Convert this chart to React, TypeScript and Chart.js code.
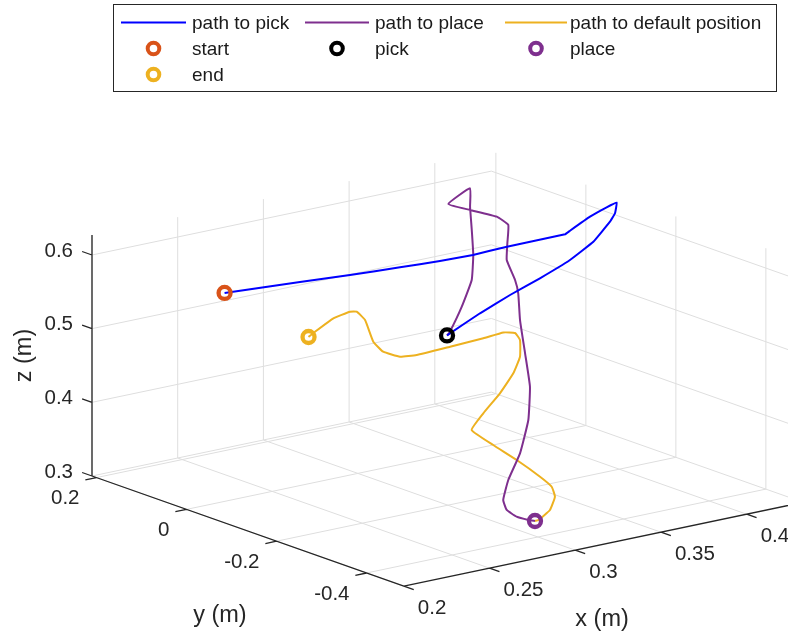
import React, { useEffect, useRef } from "react";
import { Chart, registerables } from "chart.js";

Chart.register(...registerables);

// ---- axis limits and ticks (data units, metres) ----
const X_LIM = [0.2, 0.433];
const Y_LIM = [-0.483, 0.21];
const Z_LIM = [0.3, 0.627];
const X_TICKS = [0.2, 0.25, 0.3, 0.35, 0.4];
const Y_TICKS = [-0.4, -0.2, 0, 0.2];
const Z_TICKS = [0.3, 0.4, 0.5, 0.6];
const X_TICK_LABELS = ["0.2", "0.25", "0.3", "0.35", "0.4"];
const Y_TICK_LABELS = ["-0.4", "-0.2", "0", "0.2"];
const Z_TICK_LABELS = ["0.3", "0.4", "0.5", "0.6"];
const AXIS_TITLES = ["x (m)", "y (m)", "z (m)"];

// ---- series: path to pick ----
const PICK_X = [0.2616, 0.3001, 0.3238, 0.3475, 0.3653, 0.3791, 0.3934, 0.4218, 0.4192, 0.4254, 0.4296, 0.43, 0.429, 0.4287, 0.4216, 0.4106, 0.3957, 0.3809, 0.366, 0.3511, 0.352];
const PICK_Y = [0.15, 0.1291, 0.1082, 0.0873, 0.0664, 0.0455, 0.0245, 0.0036, -0.0173, -0.0382, -0.0591, -0.08, -0.08, -0.07, -0.06, -0.05, -0.04, -0.03, -0.02, -0.01, 0.0];
const PICK_Z = [0.5313, 0.5319, 0.5343, 0.5377, 0.5421, 0.548, 0.5568, 0.5642, 0.5749, 0.5954, 0.6106, 0.6212, 0.6073, 0.5939, 0.568, 0.5464, 0.5267, 0.5091, 0.4894, 0.4673, 0.4618];

// ---- series: path to place ----
const PLACE_X = [0.352, 0.3568, 0.3668, 0.3757, 0.3797, 0.3819, 0.384, 0.3871, 0.3687, 0.3756, 0.3854, 0.3864, 0.3801, 0.374, 0.3731, 0.3692, 0.3645, 0.3617, 0.3588, 0.3521, 0.3415, 0.3289, 0.3202, 0.3165, 0.3132, 0.3141, 0.3155];
const PLACE_Y = [0.0, 0.0118, 0.0236, 0.0354, 0.0472, 0.0589, 0.0707, 0.0825, 0.0606, 0.0387, 0.0168, -0.0051, -0.027, -0.0489, -0.0708, -0.0927, -0.1146, -0.1365, -0.1584, -0.1803, -0.2022, -0.2241, -0.246, -0.2679, -0.3023, -0.3251, -0.3345];
const PLACE_Z = [0.4618, 0.462, 0.4885, 0.5179, 0.5473, 0.5776, 0.6057, 0.6266, 0.619, 0.6123, 0.6031, 0.5961, 0.579, 0.5641, 0.5421, 0.5307, 0.5014, 0.4623, 0.4231, 0.3859, 0.3506, 0.3253, 0.3071, 0.3001, 0.3, 0.3, 0.3];

// ---- series: path to default position ----
const HOME_X = [0.3155, 0.316, 0.3241, 0.3301, 0.3313, 0.3276, 0.3171, 0.3065, 0.297, 0.3069, 0.3197, 0.3306, 0.3376, 0.3407, 0.3409, 0.3372, 0.3286, 0.3123, 0.2959, 0.2893, 0.2826, 0.2799, 0.2782, 0.2764, 0.2756, 0.269, 0.2614, 0.2607];
const HOME_Y = [-0.3345, -0.34, -0.335, -0.3232, -0.3114, -0.2996, -0.2878, -0.276, -0.2642, -0.2524, -0.2406, -0.2288, -0.217, -0.2052, -0.1934, -0.1816, -0.1698, -0.158, -0.1462, -0.1344, -0.1226, -0.1108, -0.099, -0.0872, -0.0754, -0.0636, -0.0518, -0.04];
const HOME_Z = [0.3, 0.3023, 0.3108, 0.3234, 0.3338, 0.3467, 0.3719, 0.3949, 0.4174, 0.4327, 0.451, 0.4703, 0.4868, 0.5055, 0.5123, 0.5123, 0.506, 0.5001, 0.4943, 0.4926, 0.5001, 0.5125, 0.5402, 0.5498, 0.5477, 0.5394, 0.5224, 0.513];

const PATH_NAMES = ["path to pick", "path to place", "path to default position"];
const MARKER_NAMES = ["start", "pick", "place", "end"];

// ---- styling ----
const BLUE = "#0000FF";
const PURPLE = "#7E2F8E";
const YELLOW = "#EDB120";
const ORANGE = "#D95319";
const BLACK = "#000000";
const GRID = "#DEDEDE";
const AXIS = "#262626";
const FONT = '"Liberation Sans", Arial, Helvetica, sans-serif';

// ---- camera: orthographic view of the box (chart units = screen px, y up) ----
const W = 788;
const H = 633;
const VIEW = {
  origin: [92, 157], // image of (X_LIM[0], Y_LIM[1], Z_LIM[0])
  ex: [1714, 360],
  ey: [-450, 159],
  ez: [0, 736.7],
};

type P = { x: number; y: number };

function project(x: number, y: number, z: number): P {
  const u = x - X_LIM[0];
  const v = y - Y_LIM[1];
  const w = z - Z_LIM[0];
  return {
    x: VIEW.origin[0] + VIEW.ex[0] * u + VIEW.ey[0] * v + VIEW.ez[0] * w,
    y: VIEW.origin[1] + VIEW.ex[1] * u + VIEW.ey[1] * v + VIEW.ez[1] * w,
  };
}

function path(xs: number[], ys: number[], zs: number[]): P[] {
  return xs.map((x, i) => project(x, ys[i], zs[i]));
}

const GAP: P = { x: NaN, y: NaN };
function segs(list: number[][][]): P[] {
  const out: P[] = [];
  list.forEach(([a, b]) => {
    out.push(project(a[0], a[1], a[2]), project(b[0], b[1], b[2]), GAP);
  });
  return out;
}

function gridSegments(): P[] {
  const [x0, x1] = X_LIM;
  const [y0, y1] = Y_LIM;
  const [z0, z1] = Z_LIM;
  const l: number[][][] = [];
  X_TICKS.forEach((x) => l.push([[x, y0, z0], [x, y1, z0]]));
  Y_TICKS.forEach((y) => l.push([[x0, y, z0], [x1, y, z0]]));
  X_TICKS.forEach((x) => l.push([[x, y1, z0], [x, y1, z1]]));
  Z_TICKS.forEach((z) => l.push([[x0, y1, z], [x1, y1, z]]));
  Y_TICKS.forEach((y) => l.push([[x1, y, z0], [x1, y, z1]]));
  Z_TICKS.forEach((z) => l.push([[x1, y0, z], [x1, y1, z]]));
  return segs(l);
}

function axisSegments(): P[] {
  const [x0, x1] = X_LIM;
  const [y0, y1] = Y_LIM;
  const [z0, z1] = Z_LIM;
  const l: number[][][] = [
    [[x0, y1, z0], [x0, y1, z1]],
    [[x0, y0, z0], [x0, y1, z0]],
    [[x0, y0, z0], [x1, y0, z0]],
  ];
  Z_TICKS.forEach((z) => l.push([[x0, y1, z], [x0, y1 + 0.022, z]]));
  Y_TICKS.forEach((y) => l.push([[x0, y, z0], [x0 - 0.0065, y, z0]]));
  X_TICKS.forEach((x) => l.push([[x, y0, z0], [x, y0 - 0.022, z0]]));
  return segs(l);
}

const overlayPlugin = {
  id: "overlay3d",
  afterDatasetsDraw(chart: any) {
    const ctx = chart.ctx as CanvasRenderingContext2D;
    const sx = chart.scales.x;
    const sy = chart.scales.y;
    const px = (p: P) => [sx.getPixelForValue(p.x), sy.getPixelForValue(p.y)];
    ctx.save();
    ctx.fillStyle = AXIS;
    ctx.font = `20.5px ${FONT}`;
    ctx.textBaseline = "middle";
    // z tick labels
    ctx.textAlign = "right";
    Z_TICKS.forEach((t, i) => {
      const [x, y] = px(project(X_LIM[0], Y_LIM[1], t));
      ctx.fillText(Z_TICK_LABELS[i], x - 19, y - 4);
    });
    // y tick labels
    Y_TICKS.forEach((t, i) => {
      const [x, y] = px(project(X_LIM[0], t, Z_LIM[0]));
      ctx.fillText(Y_TICK_LABELS[i], x - 17, y + 21);
    });
    // x tick labels
    ctx.textAlign = "left";
    X_TICKS.forEach((t, i) => {
      const [x, y] = px(project(t, Y_LIM[0], Z_LIM[0]));
      ctx.fillText(X_TICK_LABELS[i], x + 14, y + 22);
    });
    // axis titles
    ctx.font = `23.5px ${FONT}`;
    ctx.textAlign = "center";
    const xm = px(project((X_LIM[0] + X_LIM[1]) / 2, Y_LIM[0], Z_LIM[0]));
    ctx.fillText(AXIS_TITLES[0], xm[0] - 1.5, xm[1] + 75);
    const ym = px(project(X_LIM[0], (Y_LIM[0] + Y_LIM[1]) / 2, Z_LIM[0]));
    ctx.fillText(AXIS_TITLES[1], ym[0] - 28, ym[1] + 84);
    const zm = px(project(X_LIM[0], Y_LIM[1], (Z_LIM[0] + Z_LIM[1]) / 2));
    ctx.save();
    ctx.translate(zm[0] - 67, zm[1]);
    ctx.rotate(-Math.PI / 2);
    ctx.fillText(AXIS_TITLES[2], 0, 0);
    ctx.restore();
    ctx.restore();
  },
  afterDraw(chart: any) {
    const ctx = chart.ctx as CanvasRenderingContext2D;
    const box = { l: 113.5, t: 4.5, r: 776.5, b: 91.5 };
    ctx.save();
    ctx.fillStyle = "#FFFFFF";
    ctx.fillRect(box.l, box.t, box.r - box.l, box.b - box.t);
    ctx.strokeStyle = AXIS;
    ctx.lineWidth = 1;
    ctx.strokeRect(box.l, box.t, box.r - box.l, box.b - box.t);
    const lineX = [
      [121, 186],
      [305, 369],
      [505, 567],
    ];
    const textX = [192, 375, 570];
    const rowY = [22.5, 48.5, 74.5];
    const items = [
      { name: PATH_NAMES[0], line: true, color: BLUE, c: 0, r: 0 },
      { name: PATH_NAMES[1], line: true, color: PURPLE, c: 1, r: 0 },
      { name: PATH_NAMES[2], line: true, color: YELLOW, c: 2, r: 0 },
      { name: MARKER_NAMES[0], line: false, color: ORANGE, c: 0, r: 1 },
      { name: MARKER_NAMES[1], line: false, color: BLACK, c: 1, r: 1 },
      { name: MARKER_NAMES[2], line: false, color: PURPLE, c: 2, r: 1 },
      { name: MARKER_NAMES[3], line: false, color: YELLOW, c: 0, r: 2 },
    ];
    ctx.font = `19px ${FONT}`;
    ctx.textAlign = "left";
    ctx.textBaseline = "middle";
    items.forEach((it) => {
      const y = rowY[it.r];
      const [a, b] = lineX[it.c];
      if (it.line) {
        ctx.strokeStyle = it.color;
        ctx.lineWidth = 2;
        ctx.beginPath();
        ctx.moveTo(a, y);
        ctx.lineTo(b, y);
        ctx.stroke();
      } else {
        ctx.strokeStyle = it.color;
        ctx.lineWidth = 4;
        ctx.beginPath();
        ctx.arc((a + b) / 2, y, 5.8, 0, Math.PI * 2);
        ctx.stroke();
      }
      ctx.fillStyle = "#1A1A1A";
      ctx.fillText(it.name, textX[it.c], y + 1);
    });
    ctx.restore();
  },
};

export default function App() {
  const ref = useRef<HTMLCanvasElement | null>(null);

  useEffect(() => {
    if (!ref.current) return;
    const pickPath = path(PICK_X, PICK_Y, PICK_Z);
    const placePath = path(PLACE_X, PLACE_Y, PLACE_Z);
    const homePath = path(HOME_X, HOME_Y, HOME_Z);
    const last = (a: number[]) => a[a.length - 1];
    const startPt = project(PICK_X[0], PICK_Y[0], PICK_Z[0]);
    const pickPt = project(last(PICK_X), last(PICK_Y), last(PICK_Z));
    const placePt = project(last(PLACE_X), last(PLACE_Y), last(PLACE_Z));
    const endPt = project(last(HOME_X), last(HOME_Y), last(HOME_Z));

    const lineDs = (label: string, data: P[], color: string, width: number, order: number, tension = 0) => ({
      label,
      data,
      showLine: true,
      borderColor: color,
      borderWidth: width,
      pointRadius: 0,
      pointHoverRadius: 0,
      tension,
      spanGaps: false,
      fill: false,
      order,
    });
    const markerDs = (label: string, p: P, color: string) => ({
      label,
      data: [p],
      showLine: false,
      pointRadius: 6,
      pointHoverRadius: 6,
      pointBorderWidth: 4.3,
      pointBorderColor: color,
      pointBackgroundColor: "rgba(0,0,0,0)",
      order: 0,
    });

    const chart = new Chart(ref.current, {
      type: "scatter",
      data: {
        datasets: [
          markerDs(MARKER_NAMES[0], startPt, ORANGE),
          markerDs(MARKER_NAMES[1], pickPt, BLACK),
          markerDs(MARKER_NAMES[2], placePt, PURPLE),
          markerDs(MARKER_NAMES[3], endPt, YELLOW),
          lineDs(PATH_NAMES[0], pickPath, BLUE, 2, 1, 0.08),
          lineDs(PATH_NAMES[1], placePath, PURPLE, 2, 1, 0.12),
          lineDs(PATH_NAMES[2], homePath, YELLOW, 2, 1, 0.12),
          lineDs("axes", axisSegments(), AXIS, 1.3, 2),
          lineDs("grid", gridSegments(), GRID, 1, 3),
        ] as any,
      },
      options: {
        animation: false,
        responsive: false,
        events: [],
        layout: { padding: 0, autoPadding: false } as any,
        scales: {
          x: { type: "linear", min: 0, max: W, display: false },
          y: { type: "linear", min: 0, max: H, display: false },
        },
        plugins: {
          legend: { display: false },
          tooltip: { enabled: false },
        },
      },
      plugins: [overlayPlugin],
    });
    return () => chart.destroy();
  }, []);

  return (
    <div style={{ position: "fixed", left: 0, top: 0, width: W, height: H, background: "#fff" }}>
      <canvas ref={ref} width={W} height={H} style={{ display: "block" }} />
    </div>
  );
}
